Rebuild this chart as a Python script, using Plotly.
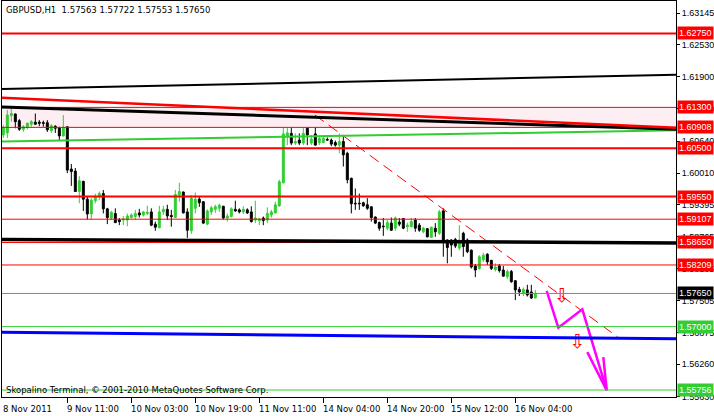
import plotly.graph_objects as go

# ---------------- data ----------------
symbol_header = "GBPUSD,H1  1.57563 1.57722 1.57553 1.57650"
copyright_text = "Skopalino Terminal, \u00a9 2001-2010 MetaQuotes Software Corp."

open_ = [1.6076, 1.6080, 1.6114, 1.6117, 1.6104, 1.6087, 1.6091, 1.6097, 1.6101, 1.6101,
         1.6100, 1.6100, 1.6084, 1.6093, 1.6090, 1.6074, 1.6092, 1.6009, 1.6005, 1.5965,
         1.5985, 1.5950, 1.5921, 1.5947, 1.5955, 1.5961, 1.5931, 1.5913, 1.5922, 1.5909,
         1.5909, 1.5909, 1.5914, 1.5916, 1.5923, 1.5919, 1.5922, 1.5925, 1.5901, 1.5894,
         1.5925, 1.5930, 1.5918, 1.5914, 1.5958, 1.5964, 1.5925, 1.5888, 1.5932, 1.5950,
         1.5945, 1.5901, 1.5925, 1.5930, 1.5932, 1.5936, 1.5913, 1.5916, 1.5930, 1.5929,
         1.5925, 1.5929, 1.5925, 1.5909, 1.5908, 1.5913, 1.5909, 1.5919, 1.5923, 1.5937,
         1.5982, 1.6072, 1.6079, 1.6060, 1.6066, 1.6060, 1.6089, 1.6060, 1.6078, 1.6061,
         1.6061, 1.6067, 1.6066, 1.6061, 1.6056, 1.6063, 1.6040, 1.5991, 1.5942, 1.5942,
         1.5943, 1.5939, 1.5935, 1.5915, 1.5904, 1.5897, 1.5893, 1.5903, 1.5893, 1.5905,
         1.5912, 1.5896, 1.5896, 1.5909, 1.5899, 1.5886, 1.5892, 1.5875, 1.5893, 1.5883,
         1.5927, 1.5870, 1.5870, 1.5871, 1.5854, 1.5883, 1.5870, 1.5850, 1.5819, 1.5814,
         1.5831, 1.5842, 1.5830, 1.5812, 1.5819, 1.5811, 1.5798, 1.5808, 1.5790, 1.5773,
         1.5765, 1.5772, 1.5768, 1.57563]
high = [1.6095, 1.6125, 1.6130, 1.6118, 1.6107, 1.6095, 1.6100, 1.6105, 1.6118, 1.6105,
        1.6104, 1.6105, 1.6097, 1.6095, 1.6092, 1.6115, 1.6093, 1.6019, 1.6011, 1.5995,
        1.5986, 1.5955, 1.5952, 1.5961, 1.5965, 1.5968, 1.5933, 1.5927, 1.5932, 1.5913,
        1.5917, 1.5922, 1.5922, 1.5929, 1.5931, 1.5927, 1.5937, 1.5932, 1.5906, 1.5937,
        1.5937, 1.5939, 1.5929, 1.5968, 1.5982, 1.5965, 1.5932, 1.5958, 1.5963, 1.5955,
        1.5946, 1.5930, 1.5937, 1.5939, 1.5941, 1.5937, 1.5922, 1.5934, 1.5947, 1.5932,
        1.5936, 1.5932, 1.5936, 1.5947, 1.5913, 1.5916, 1.5934, 1.5929, 1.5945, 1.5988,
        1.6091, 1.6091, 1.6091, 1.6079, 1.6079, 1.6091, 1.6091, 1.6076, 1.6091, 1.6073,
        1.6073, 1.6071, 1.6069, 1.6065, 1.6079, 1.6073, 1.6043, 1.5992, 1.5971, 1.5961,
        1.5945, 1.5952, 1.5936, 1.5916, 1.5906, 1.5913, 1.5909, 1.5914, 1.5916, 1.5913,
        1.5913, 1.5904, 1.5913, 1.5913, 1.5903, 1.5896, 1.5893, 1.5896, 1.5903, 1.5929,
        1.5932, 1.5871, 1.5871, 1.5874, 1.5899, 1.5886, 1.5873, 1.5851, 1.5823, 1.5840,
        1.5845, 1.5844, 1.5831, 1.5824, 1.5823, 1.5819, 1.5812, 1.5811, 1.5791, 1.5778,
        1.5777, 1.5782, 1.5782, 1.57722]
low = [1.6070, 1.6070, 1.6102, 1.6089, 1.6084, 1.6082, 1.6087, 1.6092, 1.6096, 1.6093,
       1.6092, 1.6082, 1.6080, 1.6080, 1.6066, 1.6073, 1.6001, 1.5976, 1.5964, 1.5942,
       1.5927, 1.5910, 1.5910, 1.5942, 1.5948, 1.5922, 1.5901, 1.5909, 1.5903, 1.5899,
       1.5899, 1.5897, 1.5912, 1.5910, 1.5914, 1.5916, 1.5919, 1.5897, 1.5888, 1.5893,
       1.5919, 1.5909, 1.5896, 1.5913, 1.5945, 1.5922, 1.5874, 1.5882, 1.5922, 1.5935,
       1.5901, 1.5899, 1.5919, 1.5923, 1.5925, 1.5910, 1.5906, 1.5914, 1.5925, 1.5922,
       1.5921, 1.5921, 1.5904, 1.5903, 1.5899, 1.5899, 1.5903, 1.5914, 1.5922, 1.5935,
       1.5981, 1.6056, 1.6056, 1.6056, 1.6056, 1.6056, 1.6056, 1.6056, 1.6055, 1.6056,
       1.6060, 1.6065, 1.6054, 1.6053, 1.6040, 1.6014, 1.5981, 1.5922, 1.5929, 1.5929,
       1.5935, 1.5929, 1.5906, 1.5901, 1.5888, 1.5878, 1.5889, 1.5888, 1.5888, 1.5897,
       1.5891, 1.5886, 1.5895, 1.5886, 1.5886, 1.5883, 1.5875, 1.5874, 1.5876, 1.5880,
       1.5837, 1.5824, 1.5837, 1.5854, 1.5850, 1.5837, 1.5844, 1.5814, 1.5797, 1.5812,
       1.5827, 1.5821, 1.5811, 1.5808, 1.5806, 1.5798, 1.5793, 1.5786, 1.5752, 1.5760,
       1.5760, 1.5759, 1.5754, 1.57553]
close = [1.6090, 1.6115, 1.6118, 1.6102, 1.6087, 1.6092, 1.6099, 1.6102, 1.6097, 1.6099,
         1.6099, 1.6086, 1.6094, 1.6089, 1.6074, 1.6091, 1.6007, 1.6004, 1.5965, 1.5986,
         1.5950, 1.5921, 1.5948, 1.5955, 1.5961, 1.5931, 1.5914, 1.5924, 1.5904, 1.5906,
         1.5911, 1.5917, 1.5919, 1.5922, 1.5919, 1.5925, 1.5924, 1.5899, 1.5895, 1.5925,
         1.5930, 1.5917, 1.5916, 1.5959, 1.5965, 1.5923, 1.5889, 1.5952, 1.5950, 1.5943,
         1.5903, 1.5927, 1.5933, 1.5935, 1.5938, 1.5913, 1.5917, 1.5931, 1.5927, 1.5925,
         1.5930, 1.5923, 1.5906, 1.5913, 1.5911, 1.5908, 1.5922, 1.5925, 1.5939, 1.5984,
         1.6078, 1.6080, 1.6060, 1.6063, 1.6060, 1.6079, 1.6076, 1.6068, 1.6056, 1.6069,
         1.6069, 1.6066, 1.6058, 1.6056, 1.6063, 1.6037, 1.5988, 1.5941, 1.5941, 1.5941,
         1.5937, 1.5932, 1.5914, 1.5903, 1.5893, 1.5896, 1.5904, 1.5889, 1.5913, 1.5901,
         1.5893, 1.5899, 1.5906, 1.5893, 1.5889, 1.5893, 1.5876, 1.5895, 1.5886, 1.5925,
         1.5870, 1.5855, 1.5860, 1.5858, 1.5870, 1.5857, 1.5847, 1.5817, 1.5811, 1.5837,
         1.5840, 1.5827, 1.5814, 1.5817, 1.5810, 1.5799, 1.5808, 1.5788, 1.5772, 1.5768,
         1.5773, 1.5762, 1.5756, 1.57650]

time_labels = ["8 Nov 2011", "9 Nov 11:00", "10 Nov 03:00", "10 Nov 19:00", "11 Nov 11:00",
               "14 Nov 04:00", "14 Nov 20:00", "15 Nov 12:00", "16 Nov 04:00"]
time_label_bars = [0, 16, 32, 48, 64, 80, 96, 112, 128]

price_ticks = [1.63145, 1.62530, 1.61900, 1.61270, 1.60640, 1.60010, 1.59395,
               1.58765, 1.58135, 1.57505, 1.56875, 1.56260, 1.55630]

# horizontal levels
red_levels = [1.62750, 1.61300, 1.60908, 1.60500, 1.59550, 1.59107, 1.58650, 1.58209]
red_level_widths = [2, 1, 1, 2, 2, 1, 1, 1]
green_levels = [1.57000, 1.55756]
bid_level = 1.57650
zone_prices = [1.60908, 1.61300]

# sloped lines: price at left edge, price at right edge
upper_black_line = [1.6166, 1.6194]
red_channel_line = [1.6149, 1.6090]
black_channel_line = [1.6131, 1.6087]
green_channel_line = [1.6063, 1.6085]
lower_black_line = [1.5871, 1.5864]
blue_line = [1.5689, 1.5676]

# dashed trend line (bar index, price)
trend_bars = [77.9, 154.2]
trend_prices = [1.6115, 1.5676]

# projected zigzag (bar index, price)
zigzag_bars = [135.85, 138.75, 144.75, 150.85]
zigzag_prices = [1.5770, 1.5698, 1.5734, 1.5575]
arrowhead_bars = [146.0, 150.85, None, 150.0, 150.85]
arrowhead_prices = [1.5650, 1.5575, None, 1.5640, 1.5575]

# signal arrows
signal_bars = [139.6, 143.5]
signal_prices = [1.5757, 1.5668]

x_range = [-0.33, 168.17]
y_range = [1.55619, 1.63387]

FONT = "DejaVu Sans"
FS = 8.5
PFONT = "Liberation Sans"
PFS = 9
GREEN = "#32CD32"
RED = "#FF0000"

# ---------------- figure ----------------
fig = go.Figure()

fig.add_trace(go.Candlestick(
    x=list(range(len(open_))), open=open_, high=high, low=low, close=close,
    increasing=dict(line=dict(color=GREEN, width=1), fillcolor=GREEN),
    decreasing=dict(line=dict(color="black", width=1), fillcolor="black"),
    whiskerwidth=0, showlegend=False, hoverinfo="skip"))

fig.add_trace(go.Scatter(x=trend_bars, y=trend_prices, mode="lines",
                         line=dict(color=RED, width=1, dash="11px,6px"),
                         showlegend=False, hoverinfo="skip"))
fig.add_trace(go.Scatter(x=zigzag_bars, y=zigzag_prices, mode="lines",
                         line=dict(color="#FF00FF", width=2.5),
                         showlegend=False, hoverinfo="skip"))
fig.add_trace(go.Scatter(x=arrowhead_bars, y=arrowhead_prices, mode="lines",
                         line=dict(color="#FF00FF", width=2.5),
                         showlegend=False, hoverinfo="skip"))
fig.add_trace(go.Scatter(x=signal_bars, y=signal_prices, mode="text",
                         text=["\u21e9"] * len(signal_bars),
                         textfont=dict(family=FONT, size=19, color=RED),
                         showlegend=False, hoverinfo="skip"))

shapes = [dict(type="rect", xref="paper", yref="y", x0=0, x1=1,
               y0=zone_prices[0], y1=zone_prices[1],
               fillcolor="#FDEEF3", line=dict(width=0), layer="below")]


def sloped(vals, color, width):
    return dict(type="line", xref="x", yref="y", x0=x_range[0], x1=x_range[1],
                y0=vals[0], y1=vals[1], line=dict(color=color, width=width), layer="above")


def level(v, color, width):
    return dict(type="line", xref="paper", yref="y", x0=0, x1=1, y0=v, y1=v,
                line=dict(color=color, width=width), layer="above")


for v, w in zip(red_levels, red_level_widths):
    shapes.append(level(v, RED, w))
for v in green_levels:
    shapes.append(level(v, GREEN, 1))
shapes.append(level(bid_level, "#778899", 1))

shapes.append(sloped(upper_black_line, "black", 2))
shapes.append(sloped(green_channel_line, GREEN, 2))
shapes.append(sloped(black_channel_line, "black", 3))
shapes.append(sloped(red_channel_line, RED, 2.5))
shapes.append(sloped(lower_black_line, "black", 3.5))
shapes.append(sloped(blue_line, "#0000FF", 3))

label_specs = [(v, RED) for v in red_levels] + [(bid_level, "black")] + \
              [(v, GREEN) for v in green_levels]
ann = []
for v, c in label_specs:
    ann.append(dict(xref="paper", yref="y", x=1, y=v, xanchor="left", yanchor="middle",
                    xshift=1, text=f"{v:.5f}", showarrow=False, bgcolor=c, borderpad=1,
                    font=dict(family=PFONT, size=PFS, color="white")))
for b, t in zip(time_label_bars, time_labels):
    ann.append(dict(xref="x", yref="paper", x=b, y=0, xanchor="left", yanchor="top",
                    xshift=-2, yshift=-5, text=t, showarrow=False,
                    font=dict(family=FONT, size=FS, color="black")))
ann.append(dict(xref="paper", yref="paper", x=0, y=1, xanchor="left", yanchor="top",
                xshift=2, yshift=-2, text=symbol_header, showarrow=False,
                font=dict(family=FONT, size=FS, color="black")))
ann.append(dict(xref="paper", yref="paper", x=0, y=0, xanchor="left", yanchor="bottom",
                xshift=2, yshift=0, text=copyright_text, showarrow=False,
                font=dict(family=FONT, size=FS, color="black")))

fig.update_layout(
    width=714, height=416,
    margin=dict(l=2, r=38, t=1, b=19, autoexpand=False),
    paper_bgcolor="white", plot_bgcolor="white",
    font=dict(family=FONT, size=FS, color="black"),
    shapes=shapes, annotations=ann, showlegend=False,
    xaxis=dict(range=x_range, rangeslider=dict(visible=False), showgrid=False,
               zeroline=False, showline=True, linecolor="black", linewidth=1, mirror=True,
               tickmode="array", tickvals=time_label_bars[1:], ticktext=[""] * 8,
               ticks="outside", ticklen=5, tickcolor="black", showticklabels=False,
               automargin=False),
    yaxis=dict(range=y_range, side="right", showgrid=False, zeroline=False,
               showline=True, linecolor="black", linewidth=1, mirror=True,
               tickmode="array", tickvals=price_ticks,
               ticktext=[f"{v:.5f}" for v in price_ticks],
               ticks="outside", ticklen=3, tickcolor="black", automargin=False,
               tickfont=dict(family=PFONT, size=PFS, color="black")),
)

fig.write_html("out.html", config={"displayModeBar": False},
               post_script="document.body.style.margin='0';")
